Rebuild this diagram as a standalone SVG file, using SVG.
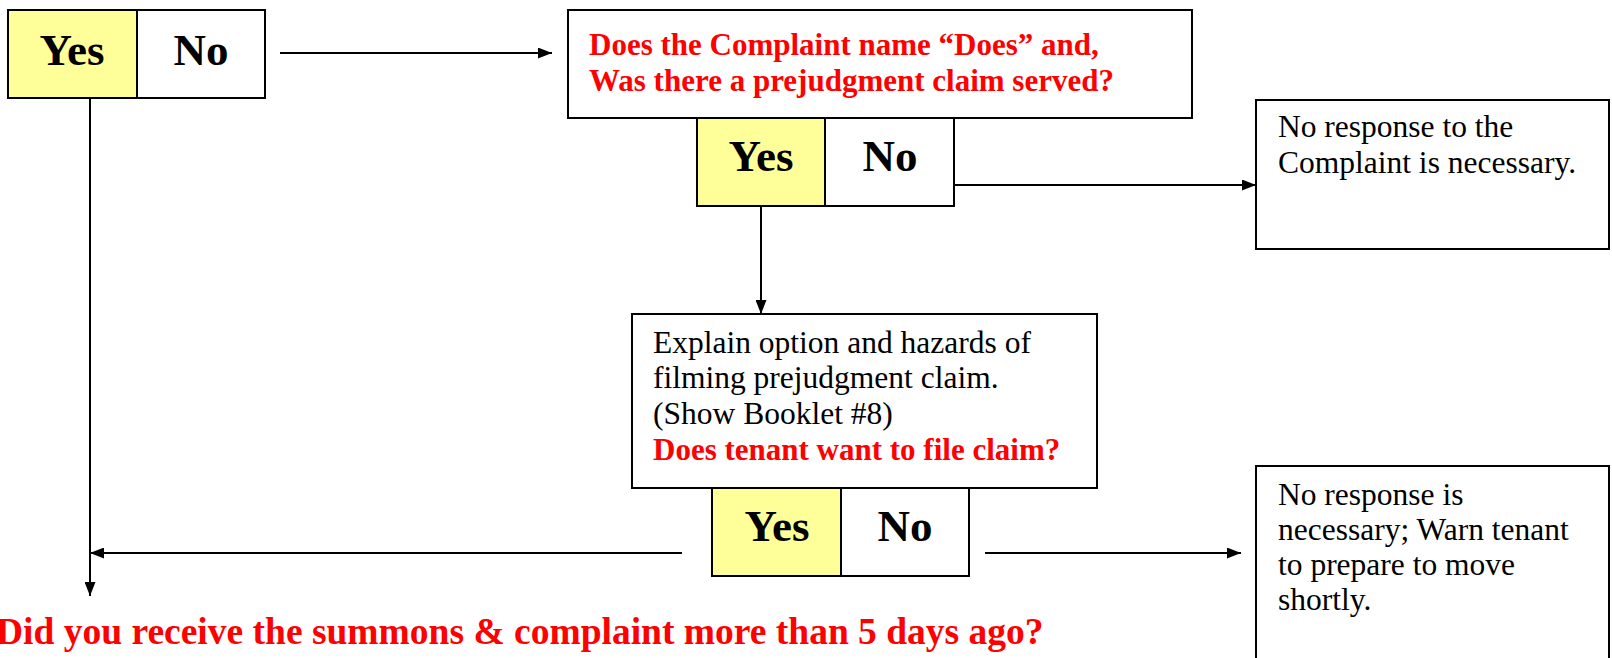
<svg xmlns="http://www.w3.org/2000/svg" width="1612" height="658" viewBox="0 0 1612 658">
<style>
.box{fill:#fff;stroke:#000;stroke-width:2}
.yes{fill:#FFFF99;stroke:#000;stroke-width:2}
.yn{font-family:"Liberation Serif",serif;font-weight:bold;font-size:45px;fill:#000;text-anchor:middle}
.q{font-family:"Liberation Serif",serif;font-weight:bold;font-size:31px;fill:#FF0000}
.t{font-family:"Liberation Serif",serif;font-size:31.5px;fill:#000}
.big{font-family:"Liberation Serif",serif;font-weight:bold;font-size:37.5px;fill:#FF0000}
.ln{stroke:#000;stroke-width:2;fill:none}
</style>
<defs>
<marker id="ah" viewBox="0 0 14 11" refX="14" refY="5.5" markerWidth="14" markerHeight="11" markerUnits="userSpaceOnUse" orient="auto">
<path d="M0,0 L14,5.5 L0,11 Z" fill="#000"/>
</marker>
</defs>
<g id="connectors">
<line class="ln" x1="280" y1="53" x2="552" y2="53" marker-end="url(#ah)"/>
<line class="ln" x1="954" y1="185" x2="1256" y2="185" marker-end="url(#ah)"/>
<line class="ln" x1="761" y1="206" x2="761" y2="314" marker-end="url(#ah)"/>
<line class="ln" x1="682" y1="553" x2="90" y2="553" marker-end="url(#ah)"/>
<line class="ln" x1="985" y1="553" x2="1241" y2="553" marker-end="url(#ah)"/>
<line class="ln" x1="90" y1="72" x2="90" y2="596" marker-end="url(#ah)"/>
</g>
<g id="yn1">
<rect class="yes" x="8" y="10" width="129" height="88"/>
<rect class="box" x="137" y="10" width="128" height="88"/>
<text class="yn" x="72" y="65">Yes</text>
<text class="yn" x="201" y="65">No</text>
</g>
<g id="q1">
<rect class="box" x="568" y="10" width="624" height="108"/>
<text class="q" x="589" y="55">Does the Complaint name “Does” and,</text>
<text class="q" x="589" y="91">Was there a prejudgment claim served?</text>
</g>
<g id="yn2">
<rect class="yes" x="697" y="118" width="128" height="88"/>
<rect class="box" x="825" y="118" width="129" height="88"/>
<text class="yn" x="761" y="171">Yes</text>
<text class="yn" x="890" y="171">No</text>
</g>
<g id="nr1">
<rect class="box" x="1256" y="100" width="353" height="149"/>
<text class="t" x="1278" y="137">No response to the</text>
<text class="t" x="1278" y="173">Complaint is necessary.</text>
</g>
<g id="explain">
<rect class="box" x="632" y="314" width="465" height="174"/>
<text class="t" x="653" y="353">Explain option and hazards of</text>
<text class="t" x="653" y="388">filming prejudgment claim.</text>
<text class="t" x="653" y="424">(Show Booklet #8)</text>
<text class="q" x="653" y="460">Does tenant want to file claim?</text>
</g>
<g id="yn3">
<rect class="yes" x="712" y="488" width="129" height="88"/>
<rect class="box" x="841" y="488" width="128" height="88"/>
<text class="yn" x="777" y="541">Yes</text>
<text class="yn" x="905" y="541">No</text>
</g>
<g id="nr2">
<rect class="box" x="1256" y="466" width="353" height="200"/>
<text class="t" x="1278" y="505">No response is</text>
<text class="t" x="1278" y="540">necessary; Warn tenant</text>
<text class="t" x="1278" y="575">to prepare to move</text>
<text class="t" x="1278" y="610">shortly.</text>
</g>
<g id="bottom">
<text class="big" x="-4" y="644">Did you receive the summons &amp; complaint more than 5 days ago?</text>
</g>
</svg>
